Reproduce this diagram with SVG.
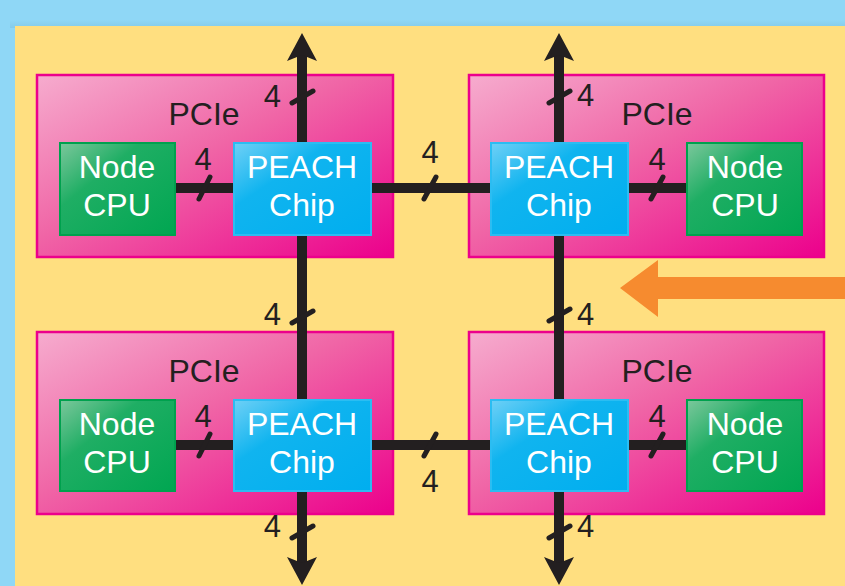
<svg xmlns="http://www.w3.org/2000/svg" width="845" height="586" viewBox="0 0 845 586">
<defs>
<linearGradient id="gPcie" x1="0" y1="0" x2="1" y2="1">
<stop offset="0" stop-color="#f6acce"/><stop offset="0.45" stop-color="#f065a6"/><stop offset="1" stop-color="#ec008c"/>
</linearGradient>
<linearGradient id="gCpu" x1="0" y1="0" x2="1" y2="1">
<stop offset="0" stop-color="#7cc79c"/><stop offset="0.35" stop-color="#1fae64"/><stop offset="1" stop-color="#00a651"/>
</linearGradient>
<linearGradient id="gChip" x1="0" y1="0" x2="1" y2="1">
<stop offset="0" stop-color="#6fd0f6"/><stop offset="0.35" stop-color="#10b4ef"/><stop offset="1" stop-color="#00aeef"/>
</linearGradient>
<linearGradient id="gShadow" x1="0" y1="0" x2="0" y2="1">
<stop offset="0" stop-color="#8fd7f6"/><stop offset="1" stop-color="#7fc3e0"/>
</linearGradient>
</defs>
<style>
.pcie{fill:url(#gPcie);stroke:#ec008c;stroke-width:2.5}
.cpu{fill:url(#gCpu);stroke:#00a14e;stroke-width:2}
.chip{fill:url(#gChip);stroke:#2bbdf2;stroke-width:2}
.t{font-family:"Liberation Sans",Arial,sans-serif;font-size:32px;text-anchor:middle}
.w{fill:#ffffff}
.k{fill:#231f20}
.n{font-family:"Liberation Sans",Arial,sans-serif;font-size:31px;fill:#231f20}
.bus{stroke:#231f20;stroke-width:10;fill:none}
.tick{stroke:#231f20;stroke-width:5;stroke-linecap:round;fill:none}
.head{fill:#231f20}
</style>
<rect x="0" y="0" width="845" height="586" fill="#8fd7f6"/>
<rect x="10" y="20" width="835" height="8" fill="url(#gShadow)" opacity="0.6"/>
<rect x="15" y="26" width="830" height="560" fill="#ffdf80"/>

<g id="pcie-tl"><rect class="pcie" x="37" y="75" width="356" height="182"/><text class="t k" x="204" y="125">PCIe</text></g>
<g id="pcie-tr"><rect class="pcie" x="469" y="75" width="355" height="182"/><text class="t k" x="657" y="125">PCIe</text></g>
<g id="pcie-bl"><rect class="pcie" x="37" y="332" width="356" height="182"/><text class="t k" x="204" y="382">PCIe</text></g>
<g id="pcie-br"><rect class="pcie" x="469" y="332" width="355" height="182"/><text class="t k" x="657" y="382">PCIe</text></g>

<g id="connectors">
<line class="bus" x1="302" y1="52" x2="302" y2="566"/>
<line class="bus" x1="559" y1="52" x2="559" y2="566"/>
<line class="bus" x1="370" y1="188" x2="491" y2="188"/>
<line class="bus" x1="370" y1="445" x2="491" y2="445"/>
<line class="bus" x1="174" y1="188" x2="234" y2="188"/>
<line class="bus" x1="627" y1="188" x2="688" y2="188"/>
<line class="bus" x1="174" y1="445" x2="234" y2="445"/>
<line class="bus" x1="627" y1="445" x2="688" y2="445"/>
<path class="head" d="M302,33 L317,61 L302,55 L287,61 Z"/>
<path class="head" d="M559,33 L574,61 L559,55 L544,61 Z"/>
<path class="head" d="M302,585 L317,557 L302,563 L287,557 Z"/>
<path class="head" d="M559,585 L574,557 L559,563 L544,557 Z"/>
<path class="tick" d="M292,103 L313,91"/>
<path class="tick" d="M549,103 L570,91"/>
<path class="tick" d="M292,323 L313,311"/>
<path class="tick" d="M549,321 L570,309"/>
<path class="tick" d="M292,538 L313,526"/>
<path class="tick" d="M549,538 L570,526"/>
<path class="tick" d="M199,199 L210,177"/>
<path class="tick" d="M651,199 L663,177"/>
<path class="tick" d="M424,199 L436,177"/>
<path class="tick" d="M199,456 L210,434"/>
<path class="tick" d="M651,456 L663,434"/>
<path class="tick" d="M424,456 L436,434"/>
<text class="n" x="281" y="107" text-anchor="end">4</text>
<text class="n" x="577" y="106">4</text>
<text class="n" x="281" y="325" text-anchor="end">4</text>
<text class="n" x="577" y="325">4</text>
<text class="n" x="281" y="537" text-anchor="end">4</text>
<text class="n" x="577" y="537">4</text>
<text class="n" x="203" y="170" text-anchor="middle">4</text>
<text class="n" x="657" y="170" text-anchor="middle">4</text>
<text class="n" x="430" y="163" text-anchor="middle">4</text>
<text class="n" x="203" y="427" text-anchor="middle">4</text>
<text class="n" x="657" y="427" text-anchor="middle">4</text>
<text class="n" x="430" y="492" text-anchor="middle">4</text>
</g>

<g id="cpu-tl"><rect class="cpu" x="60" y="143" width="115" height="92"/><text class="t w" x="117" y="178">Node</text><text class="t w" x="117" y="216">CPU</text></g>
<g id="chip-tl"><rect class="chip" x="234" y="143" width="137" height="92"/><text class="t w" x="302" y="178">PEACH</text><text class="t w" x="302" y="216">Chip</text></g>
<g id="chip-tr"><rect class="chip" x="491" y="143" width="137" height="92"/><text class="t w" x="559" y="178">PEACH</text><text class="t w" x="559" y="216">Chip</text></g>
<g id="cpu-tr"><rect class="cpu" x="687" y="143" width="115" height="92"/><text class="t w" x="745" y="178">Node</text><text class="t w" x="745" y="216">CPU</text></g>
<g id="cpu-bl"><rect class="cpu" x="60" y="400" width="115" height="91"/><text class="t w" x="117" y="435">Node</text><text class="t w" x="117" y="473">CPU</text></g>
<g id="chip-bl"><rect class="chip" x="234" y="400" width="137" height="91"/><text class="t w" x="302" y="435">PEACH</text><text class="t w" x="302" y="473">Chip</text></g>
<g id="chip-br"><rect class="chip" x="491" y="400" width="137" height="91"/><text class="t w" x="559" y="435">PEACH</text><text class="t w" x="559" y="473">Chip</text></g>
<g id="cpu-br"><rect class="cpu" x="687" y="400" width="115" height="91"/><text class="t w" x="745" y="435">Node</text><text class="t w" x="745" y="473">CPU</text></g>

<g id="orange-arrow"><path d="M845,277 L658,277 L658,260 L620,288 L658,317 L658,299 L845,299 Z" fill="#f68b2f"/></g>
</svg>
